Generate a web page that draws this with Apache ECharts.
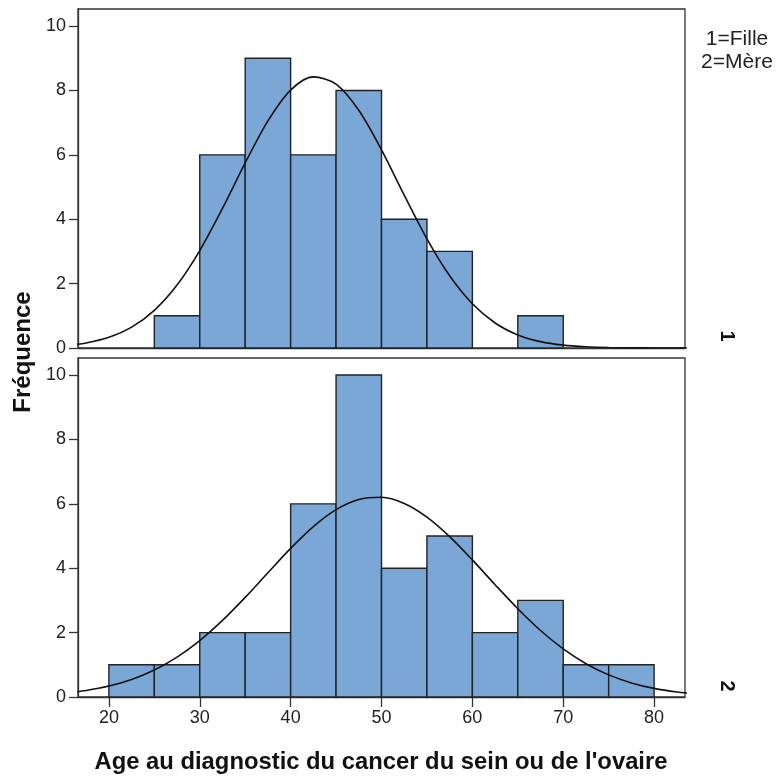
<!DOCTYPE html>
<html>
<head>
<meta charset="utf-8">
<script src="https://cdn.jsdelivr.net/npm/echarts@6/dist/echarts.min.js"></script>
<style>html,body{margin:0;padding:0;background:#fff}#c{width:778px;height:779px}</style>
</head>
<body>
<div id="c"></div>
<script>
// Bin edges (width 5)
const binStarts = [20, 25, 30, 35, 40, 45, 50, 55, 60, 65, 70, 75];
const binWidth = 5;
// Frequencies: group 1 (Fille), group 2 (Mère)
const countsFille = [0, 1, 6, 9, 6, 8, 4, 3, 0, 1, 0, 0];
const countsMere  = [1, 1, 2, 2, 6, 10, 4, 5, 2, 3, 1, 1];
const curveX = [15,17.5,20,22.5,25,27.5,30,32.5,35,37.5,40,42.5,45,47.5,50,52.5,55,57.5,60,62.5,65,67.5,70,72.5,75,77.5,80,82.5,85];
const curveFille = [0.069,0.157,0.331,0.647,1.169,1.954,3.026,4.335,5.747,7.053,8.011,8.423,8.197,7.383,6.155,4.749,3.392,2.243,1.373,0.777,0.407,0.198,0.089,0.037,0.014,0.005,0.002,0.0005,0];
const curveMere = [0.117,0.204,0.340,0.546,0.840,1.240,1.754,2.379,3.094,3.859,4.615,5.292,5.819,6.135,6.203,6.013,5.589,4.982,4.258,3.489,2.742,2.066,1.493,1.034,0.687,0.438,0.267,0.157,0.088];
const xTicks = [20, 30, 40, 50, 60, 70, 80];
const yTicks = [0, 2, 4, 6, 8, 10];

const FONT = 'Arial, "Liberation Sans", sans-serif';
const chart = echarts.init(document.getElementById('c'), null, {renderer: 'canvas'});

function histData(counts) {
  return binStarts.map((s, i) => [s, s + binWidth, counts[i]]).filter(d => d[2] > 0);
}
function renderBar(params, api) {
  const p0 = api.coord([api.value(0), api.value(2)]);
  const p1 = api.coord([api.value(1), 0]);
  return {
    type: 'rect',
    shape: {x: p0[0], y: p0[1], width: p1[0] - p0[0], height: p1[1] - p0[1]},
    style: {fill: '#7ba7d6', stroke: '#222', lineWidth: 1.4}
  };
}

const xBase = {
  type: 'value', min: 16.6, max: 83.4,
  splitLine: {show: false},
  axisLine: {show: true, lineStyle: {color: '#333', width: 1.3}}
};
const yBase = {
  type: 'value', min: 0, max: 10.53,
  splitLine: {show: false},
  axisLine: {show: true, lineStyle: {color: '#333', width: 1.3}},
  axisTick: {show: true, length: 9, customValues: yTicks, lineStyle: {color: '#333', width: 1.3}},
  axisLabel: {customValues: yTicks, color: '#222', fontSize: 18, fontFamily: FONT, margin: 12}
};

const option = {
  backgroundColor: '#fff',
  animation: false,
  grid: [
    {left: 78, top: 9, width: 607, height: 339, show: true, borderColor: '#333', borderWidth: 1.3},
    {left: 78, top: 358, width: 607, height: 339, show: true, borderColor: '#333', borderWidth: 1.3}
  ],
  xAxis: [
    Object.assign({}, xBase, {gridIndex: 0, axisTick: {show: false}, axisLabel: {show: false}}),
    Object.assign({}, xBase, {
      gridIndex: 1,
      axisTick: {show: true, length: 10, customValues: xTicks, lineStyle: {color: '#333', width: 1.3}},
      axisLabel: {show: true, customValues: xTicks, color: '#222', fontSize: 18, fontFamily: FONT, margin: 12}
    })
  ],
  yAxis: [
    Object.assign({}, yBase, {gridIndex: 0}),
    Object.assign({}, yBase, {gridIndex: 1})
  ],
  series: [
    {type: 'custom', xAxisIndex: 0, yAxisIndex: 0, renderItem: renderBar, data: histData(countsFille), encode: {x: [0, 1], y: 2}},
    {type: 'custom', xAxisIndex: 1, yAxisIndex: 1, renderItem: renderBar, data: histData(countsMere), encode: {x: [0, 1], y: 2}},
    {type: 'line', xAxisIndex: 0, yAxisIndex: 0, smooth: 0.3, showSymbol: false, clip: true,
     lineStyle: {color: '#111', width: 1.6}, data: curveX.map((x, i) => [x, curveFille[i]])},
    {type: 'line', xAxisIndex: 1, yAxisIndex: 1, smooth: 0.3, showSymbol: false, clip: true,
     lineStyle: {color: '#111', width: 1.6}, data: curveX.map((x, i) => [x, curveMere[i]])}
  ],
  graphic: [
    {type: 'text', x: 23, y: 352, rotation: Math.PI / 2,
     style: {text: 'Fréquence', font: 'bold 24px ' + FONT, fill: '#111', align: 'center', verticalAlign: 'middle'}},
    {type: 'text', x: 381, y: 762,
     style: {text: "Age au diagnostic du cancer du sein ou de l'ovaire", font: 'bold 23.8px ' + FONT, fill: '#111', align: 'center', verticalAlign: 'middle'}},
    {type: 'text', x: 737, y: 39,
     style: {text: '1=Fille', font: '21px ' + FONT, fill: '#222', align: 'center', verticalAlign: 'middle'}},
    {type: 'text', x: 737, y: 62,
     style: {text: '2=Mère', font: '21px ' + FONT, fill: '#222', align: 'center', verticalAlign: 'middle'}},
    {type: 'text', x: 727, y: 336, rotation: -Math.PI / 2,
     style: {text: '1', font: 'bold 20px ' + FONT, fill: '#111', align: 'center', verticalAlign: 'middle'}},
    {type: 'text', x: 727, y: 686, rotation: -Math.PI / 2,
     style: {text: '2', font: 'bold 20px ' + FONT, fill: '#111', align: 'center', verticalAlign: 'middle'}}
  ]
};
chart.setOption(option);
</script>
</body>
</html>
